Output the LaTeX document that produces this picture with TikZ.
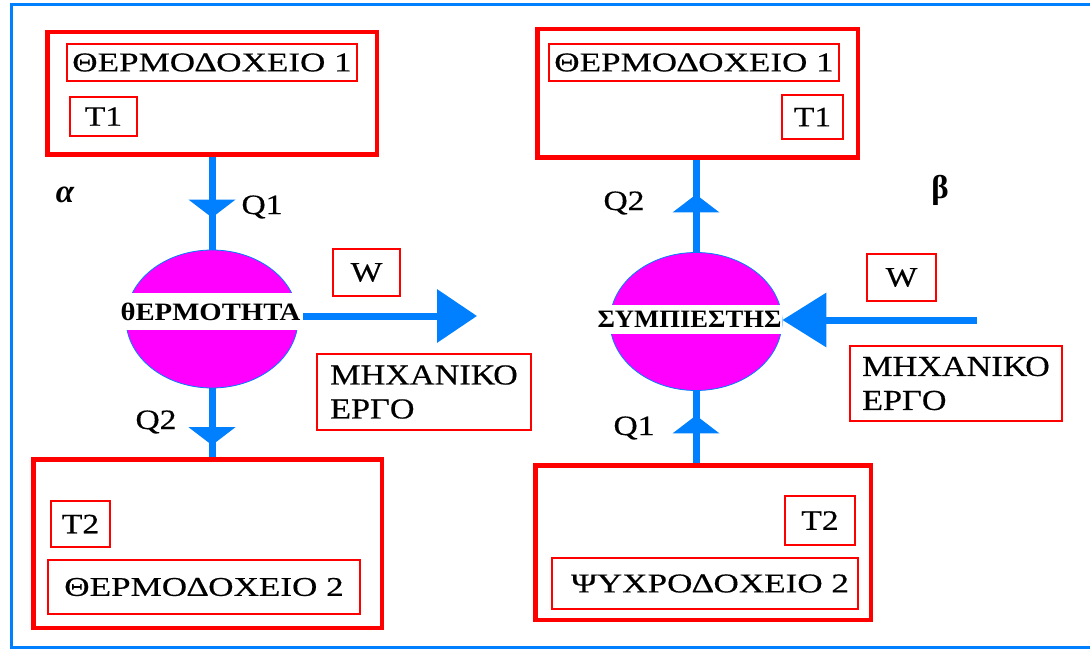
\documentclass[tikz,border=0pt]{standalone}
\usepackage{fontspec}
\usetikzlibrary{shapes.geometric,arrows.meta,decorations.markings}
\newfontfamily\wideserif[FakeStretch=1.2,FakeBold=0.4]{Liberation Serif}
\newfontfamily\titleserif[FakeStretch=1.3,FakeBold=0.4]{Liberation Serif}
\newfontfamily\workserif[FakeStretch=1.18,FakeBold=0.4]{Liberation Serif}
\newfontfamily\bandserif[FakeStretch=1.15]{Liberation Serif}
\newfontfamily\bandserifn[FakeStretch=1.065]{Liberation Serif}
\newfontfamily\serifgr{Liberation Serif}
\definecolor{frameblue}{RGB}{0,128,255}
\definecolor{boxred}{RGB}{255,0,0}
\definecolor{bulb}{RGB}{255,0,255}
\tikzset{
  tank/.style={draw=boxred, line width=4.5pt, inner sep=0pt},
  tag/.style={draw=boxred, line width=1.6pt, inner sep=0pt,
    font=\wideserif\fontsize{28}{34}\selectfont},
  title/.style={tag, font=\titleserif\fontsize{27}{34}\selectfont},
  worktag/.style={tag, align=left, font=\workserif\fontsize{29}{34}\selectfont},
  unit/.style={ellipse, fill=bulb, draw=frameblue, line width=0.8pt,
    minimum width=172pt, minimum height=138pt, inner sep=0pt},
  band/.style={fill=white, inner sep=0pt, minimum width=185pt},
  qlabel/.style={font=\wideserif\fontsize{28}{34}\selectfont},
  caselabel/.style={font=\serifgr\bfseries\fontsize{33}{36}\selectfont},
  flow/.style={draw=frameblue, line width=7pt},
  midhead/.style={postaction={decorate, decoration={markings,
    mark=at position #1 with {\fill[frameblue] (0,-23.5pt) -- (0,23.5pt) -- (18pt,0) -- cycle;}}}}
}
\begin{document}
\begin{tikzpicture}[x=1pt,y=-1pt]
\useasboundingbox (0,0) rectangle (1090,650);

% outer frame, open on the right
\draw[frameblue, line width=3pt] (1090,5) -- (11,5) -- (11,647) -- (1090,647);

% ---------- case alpha: heat engine ----------
\node[tank, minimum width=329.5pt, minimum height=122.5pt] (tankA) at (212,93.5) {};
\node[title, minimum width=290.4pt, minimum height=37.4pt] (tA1) at (212,62.5) {ΘΕΡΜΟΔΟΧΕΙΟ 1};
\node[tag, minimum width=67.4pt, minimum height=39.4pt] (tA2) at (103.5,116.5) {T1};

\node[tank, minimum width=348.5pt, minimum height=168.5pt] (tankB) at (207.5,543.5) {};
\node[tag, minimum width=59.4pt, minimum height=46.4pt] (tB1) at (80.5,524) {T2};
\node[title, minimum width=312.4pt, minimum height=54.4pt] (tB2) at (204,587) {ΘΕΡΜΟΔΟΧΕΙΟ 2};

\node[unit] (heatL) at (212,319) {};
\node[band, minimum height=37pt, font=\bandserif\bfseries\fontsize{25}{28}\selectfont] (labL) at (210.5,311.5) {θΕΡΜΟΤΗΤΑ};

\node[tag, minimum width=67.4pt, minimum height=47.4pt] (wL) at (366.5,272.5) {W};
\node[worktag, minimum width=214.4pt, minimum height=76.4pt] (mL) at (424,392) {ΜΗΧΑΝΙΚΟ\\ΕΡΓΟ};

\node[caselabel, font=\serifgr\bfseries\itshape\fontsize{33}{36}\selectfont] (alpha) at (65,195) {α};
\node[qlabel] (qA1) at (262,207) {Q1};
\node[qlabel] (qA2) at (156,422) {Q2};

\draw[flow, midhead=0.46] (tankA.south) -- (heatL.north);
\draw[flow, midhead=0.565] (heatL.south) -- (tankB.north -| heatL.south);
\coordinate (outL) at (477,316);
\draw[flow, -{Triangle[length=40pt, width=52pt]}] (labL.east |- outL) -- (outL);

% ---------- case beta: compressor ----------
\node[tank, minimum width=320.5pt, minimum height=128.5pt] (tankC) at (697.5,93.5) {};
\node[title, minimum width=290.4pt, minimum height=37.4pt] (tC1) at (694,62.5) {ΘΕΡΜΟΔΟΧΕΙΟ 1};
\node[tag, minimum width=61.4pt, minimum height=44.4pt] (tC2) at (812.5,117) {T1};

\node[tank, minimum width=335.5pt, minimum height=154.5pt] (tankD) at (703,542.5) {};
\node[tag, minimum width=70.4pt, minimum height=49.4pt] (tD1) at (820,520.5) {T2};
\node[title, minimum width=306.4pt, minimum height=51.4pt] (tD2) at (705,583.5) {\hspace*{10pt}ΨΥΧΡΟΔΟΧΕΙΟ 2};

\node[unit] (compR) at (696,321.5) {};
\node[band, minimum height=29pt, font=\bandserifn\bfseries\fontsize{25}{28}\selectfont] (labR) at (689.5,319.5) {ΣΥΜΠΙΕΣΤΗΣ};

\node[tag, minimum width=69.4pt, minimum height=47.4pt] (wR) at (901.5,277.5) {W};
\node[worktag, minimum width=212.4pt, minimum height=75.4pt] (mR) at (956,383.5) {ΜΗΧΑΝΙΚΟ\\ΕΡΓΟ};

\node[caselabel] (beta) at (940,190) {β};
\node[qlabel] (qB2) at (624,203) {Q2};
\node[qlabel] (qB1) at (634,428) {Q1};

\draw[flow, midhead=0.43] (compR.north) -- (tankC.south -| compR.north);
\draw[flow, midhead=0.41] (tankD.north -| compR.south) -- (compR.south);
\coordinate (inR) at (977,320);
\draw[flow, -{Triangle[length=44pt, width=53pt]}] (inR) -- (compR.east |- inR);
\end{tikzpicture}
\end{document}
